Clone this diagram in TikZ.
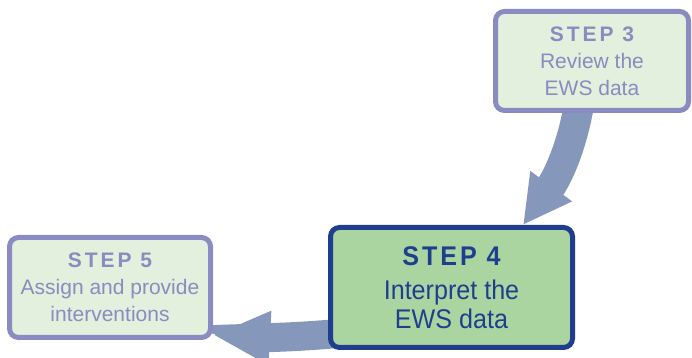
\documentclass[tikz,border=0pt]{standalone}
\usepackage{fontspec}
\setmainfont{Liberation Sans}
\newfontfamily\stepfont[LetterSpace=14]{Liberation Sans}
\newfontfamily\bigfont[FakeStretch=0.93]{Liberation Sans}
\newfontfamily\bigstepfont[LetterSpace=11,FakeStretch=0.93]{Liberation Sans}
\usetikzlibrary{arrows.meta,backgrounds}
\definecolor{arrowblue}{HTML}{8598BC}
\definecolor{lavender}{HTML}{8A8BC0}
\definecolor{palegreen}{HTML}{E2F0DD}
\definecolor{darkblue}{HTML}{1F3F8E}
\definecolor{midgreen}{HTML}{AAD5A1}
\tikzset{
	stepbox/.style={draw=lavender, fill=palegreen, line width=5pt, rounded corners=9pt,
		text=lavender, align=center, inner sep=0pt,
		font=\fontsize{21}{27}\selectfont},
	mainbox/.style={stepbox, draw=darkblue, fill=midgreen, text=darkblue,
		font=\bigfont\fontsize{27}{29}\selectfont},
	flow/.style={draw=arrowblue, line width=30pt, -{Triangle[width=48pt,length=48pt]}}
}

\begin{document}
\begin{tikzpicture}[x=1pt,y=1pt]
			%%%%% START %%%%%
			\useasboundingbox (0,0) rectangle (692,358);
			
			\node[stepbox, minimum width=193pt, minimum height=99pt] (step3) at (592, 297)
				{{\stepfont\bfseries STEP 3}\\Review the\\EWS data};
			
			\node[mainbox, minimum width=242pt, minimum height=120pt] (step4) at (451.5, 70.5)
				{{\bigstepfont\bfseries STEP 4}\\[5pt]Interpret the\\EWS data};
			
			\node[stepbox, minimum width=201pt, minimum height=100pt] (step5) at (110, 70.5)
				{{\stepfont\bfseries STEP 5}\\Assign and provide\\interventions};
			
			\begin{scope}[on background layer]
				\draw[flow] ([xshift=-13pt, yshift=8pt]step3.south) to[out=-100, in=54] ([xshift=71.5pt]step4.north);
				\draw[flow, line width=29pt, -{Triangle[width=50pt,length=57pt]}]
					([xshift=10pt, yshift=-46pt]step4.west) to[out=185, in=-3] ([yshift=-47.5pt]step5.east);
			\end{scope}
			
			%%%%% END %%%%%
\end{tikzpicture}
\end{document}
